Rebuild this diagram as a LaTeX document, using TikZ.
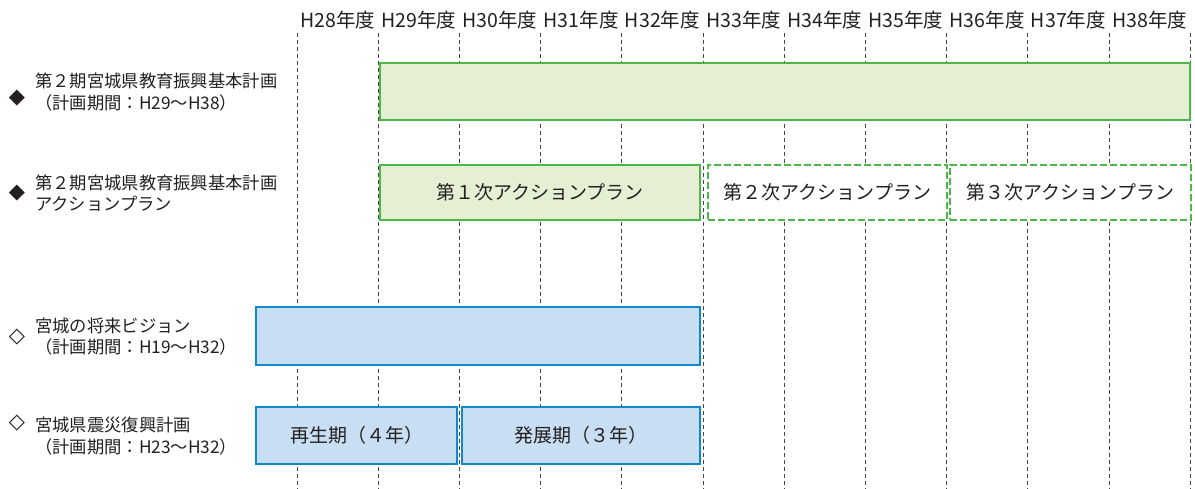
\documentclass[tikz,border=0pt]{standalone}
\usepackage{fontspec}
\newfontfamily\jp{Noto Sans CJK JP}
\newfontfamily\sym{DejaVu Sans}
\definecolor{txt}{RGB}{35,31,32}
\definecolor{gline}{RGB}{76,184,72}
\definecolor{gfill}{RGB}{229,239,212}
\definecolor{bline}{RGB}{16,136,206}
\definecolor{bfill}{RGB}{200,222,242}
\definecolor{grid}{RGB}{70,70,70}
\tikzset{
  lbl/.style={font=\jp\fontsize{17.3}{21.5}\selectfont, text=txt, inner sep=0pt},
  boxtxt/.style={font=\jp\fontsize{19}{22}\selectfont, text=txt, inner sep=0pt},
  yr/.style={font=\jp\fontsize{19.5}{22}\selectfont, text=txt, inner sep=0pt},
  rowlbl/.style={lbl, anchor=west, align=left},
  gridline/.style={grid, line width=0.8pt, dash pattern=on 4pt off 3pt},
  gbox/.style={draw=gline, fill=gfill, line width=2pt, inner sep=0pt},
  gdash/.style={draw=gline, fill=white, line width=2pt, dash pattern=on 7pt off 3pt, inner sep=0pt},
  bbox/.style={draw=bline, fill=bfill, line width=2pt, inner sep=0pt},
  bullet/.style={text=txt, inner sep=0pt, font=\sym\fontsize{21}{21}\selectfont}
}
\begin{document}
\begin{tikzpicture}[x=1pt,y=-1pt]
\useasboundingbox (0,0) rectangle (1195,489);
% grid lines and year labels
\foreach \i in {0,...,11} {
  \coordinate (g\i t) at (297+81.2*\i,33);
  \coordinate (g\i b) at (297+81.2*\i,489);
  \draw[gridline] (g\i t) -- (g\i b);
}
\foreach \i/\y in {0/28,1/29,2/30,3/31,4/32,5/33,6/34,7/35,8/36,9/37,10/38} {
  \node[yr] (y\y) at (337.6+81.2*\i,20) {H\y 年度};
}
% row 1
\node[bullet] (m1) at (17,98) {◆};
\node[rowlbl] (l1) at (35,92) {第２期宮城県教育振興基本計画\\（計画期間：H29～H38）};
\node[gbox, minimum width=810pt, minimum height=57pt] (b1) at (785,91.5) {};
% row 2
\node[bullet] (m2) at (17,193) {◆};
\node[rowlbl] (l2) at (35,193) {第２期宮城県教育振興基本計画\\アクションプラン};
\node[gbox, minimum width=320pt, minimum height=55pt] (a1) at (540,192.5) {};
\node[boxtxt] (a1t) at (a1) {第１次アクションプラン};
\node[gdash, minimum width=239pt, minimum height=55pt] (a2) at (827.5,192.5) {};
\node[boxtxt] (a2t) at (a2) {第２次アクションプラン};
\node[gdash, minimum width=241pt, minimum height=55pt] (a3) at (1070.5,192.5) {};
\node[boxtxt] (a3t) at (a3) {第３次アクションプラン};
% row 3
\node[bullet] (m3) at (17,337) {◇};
\node[rowlbl] (l3) at (35,336.5) {宮城の将来ビジョン\\（計画期間：H19～H32）};
\node[bbox, minimum width=444pt, minimum height=58pt] (v1) at (478,336) {};
% row 4
\node[bullet] (m4) at (17,423) {◇};
\node[rowlbl] (l4) at (35,436) {宮城県震災復興計画\\（計画期間：H23～H32）};
\node[bbox, minimum width=201pt, minimum height=57pt] (r1) at (356.5,435.5) {};
\node[boxtxt] (r1t) at (r1) {再生期（４年）};
\node[bbox, minimum width=238pt, minimum height=57pt] (r2) at (581,435.5) {};
\node[boxtxt] (r2t) at (r2) {発展期（３年）};
\end{tikzpicture}
\end{document}
